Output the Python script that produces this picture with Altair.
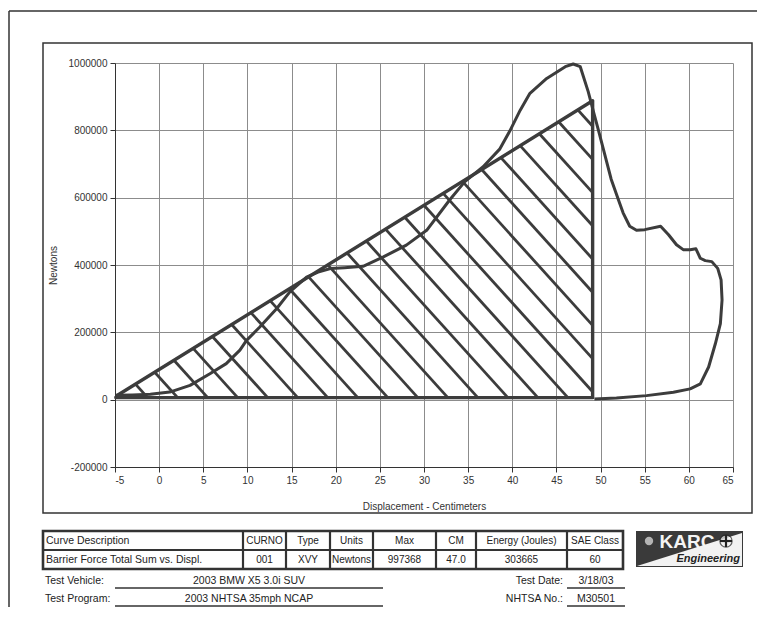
import altair as alt
import pandas as pd
import numpy as np

FONT = "Liberation Sans"
INK = "#3c3c3c"

# ---------------- data ----------------
LOAD_X = [-4.9, -3.0, -1.0, 1.2, 3.5, 5.75, 7.6, 9.15, 9.9, 11.4, 13.3, 14.8, 16.7, 18.0,
          19.4, 21.0, 23.1, 25.4, 28.0, 30.3, 32.9, 34.6, 36.7, 38.6, 39.7, 40.9, 42.0,
          43.9, 46.0, 46.9]
LOAD_Y = [12800, 14000, 16000, 22600, 42500, 77000, 107000, 147000, 176000, 216000, 270000,
          320000, 364000, 379000, 389500, 392000, 396000, 424000, 459000, 503000, 593000,
          647000, 692000, 745000, 797000, 860000, 910000, 954000, 989000, 997000]
UNLOAD_X = [47.7, 48.6, 49.2, 49.8, 51.2, 52.0, 52.55, 53.3, 54.07, 55.0, 56.8, 57.7, 58.6,
            59.4, 60.15, 60.8, 61.3, 61.86, 62.6, 63.27, 63.65, 63.76, 63.57, 63.0, 62.24,
            61.3, 60.15, 58.25, 55.2, 51.8, 49.3]
UNLOAD_Y = [989000, 915000, 855000, 796000, 655000, 595000, 555000, 515000, 503000, 505000,
            515000, 490000, 460000, 445000, 445000, 448000, 420000, 413000, 410000, 390000,
            356000, 296000, 226000, 166000, 97000, 47000, 32000, 22000, 12000, 5000, 2000]

# equivalent-energy triangle (apex-left, apex-top, bottom-right, bottom-left)
TRI_X = [-4.9, 49.1, 49.1, -4.9]
TRI_Y = [10000, 888000, 6000, 6000]

# hatch lines: where each crosses the triangle base, and their slope (N per cm)
HATCH_X0 = [-1.3, 2.1, 5.5, 8.9, 12.3, 15.7, 19.1, 22.5, 25.9, 29.3, 32.7, 36.1, 39.5,
            42.9, 46.3, 49.7, 53.1, 56.5, 59.9, 63.3, 66.7, 70.1, 73.5, 76.9]
HATCH_SLOPE = 29000

X_TICKS = list(range(-5, 70, 5))
Y_TICKS = [-200000, 0, 200000, 400000, 600000, 800000, 1000000]

HEAD = ["Curve Description", "CURNO", "Type", "Units", "Max", "CM", "Energy (Joules)", "SAE Class"]
ROW = ["Barrier Force Total Sum vs. Displ.", "001", "XVY", "Newtons", "997368", "47.0", "303665", "60"]
INFO_LEFT = [("Test Vehicle:", "2003 BMW X5 3.0i SUV"), ("Test Program:", "2003 NHTSA 35mph NCAP")]
INFO_RIGHT = [("Test Date:", "3/18/03"), ("NHTSA No.:", "M30501")]

# ---------------- tables ----------------
curve = pd.DataFrame({
    "x": LOAD_X + UNLOAD_X,
    "y": LOAD_Y + UNLOAD_Y,
})
curve["i"] = np.arange(len(curve))

tri = pd.DataFrame({"x": TRI_X + [TRI_X[0]], "y": TRI_Y + [TRI_Y[0]]})
tri["i"] = np.arange(len(tri))

xa, ya = TRI_X[0], TRI_Y[0]
xb, yb_top = TRI_X[1], TRI_Y[1]
xr = TRI_X[2]
ybase = TRI_Y[2]
m = (yb_top - ya) / (xb - xa)
rows = []
for x0 in HATCH_X0:
    xh = (ybase + HATCH_SLOPE * x0 - ya + m * xa) / (m + HATCH_SLOPE)
    yh = ya + m * (xh - xa)
    if x0 <= xr:
        xl, yl = x0, ybase
    else:
        xl, yl = xr, ybase + HATCH_SLOPE * (x0 - xr)
    if xh < xr and yl < yh:
        rows.append({"x": xh, "y": yh, "x2": xl, "y2": yl})
hatch = pd.DataFrame(rows)

W, H = 618, 404
XD = [-5, 65]
YD = [-200000, 1000000]
xs = alt.Scale(domain=XD, nice=False, zero=False)
ys = alt.Scale(domain=YD, nice=False, zero=False)

# page pixel -> local pixel helpers (plot area origin at page 115,63)
OX, OY = 115, 63
def lx(p):
    return p - OX
def ly(p):
    return p - OY
def dx(p):  # page px -> data x
    return XD[0] + (p - OX) * (XD[1] - XD[0]) / W
def dy(p):  # page px -> data y
    return YD[1] - (p - OY) * (YD[1] - YD[0]) / H

one = pd.DataFrame({"a": [0]})

def txt(s, px, py, align="left", size=10, color="#222", **kw):
    return alt.Chart(one).mark_text(text=s, align=align, baseline="middle", fontSize=size,
                                    font=FONT, color=color, **kw).encode(
        x=alt.value(lx(px)), y=alt.value(ly(py)))

def rule(x1, y1, x2, y2, w=1.0, color="#333"):
    return alt.Chart(one).mark_rule(strokeWidth=w, color=color).encode(
        x=alt.value(lx(x1)), y=alt.value(ly(y1)), x2=alt.value(lx(x2)), y2=alt.value(ly(y2)))

def rect(x1, y1, x2, y2, fill=None, stroke=None, w=1.0):
    kw = {}
    if fill is not None:
        kw["fill"] = fill
    else:
        kw["fillOpacity"] = 0
    if stroke is not None:
        kw["stroke"] = stroke
        kw["strokeWidth"] = w
    return alt.Chart(one).mark_rect(**kw).encode(
        x=alt.value(lx(x1)), y=alt.value(ly(y1)), x2=alt.value(lx(x2)), y2=alt.value(ly(y2)))

def dot(px, py, size, fill, stroke=None, w=1.0, shape="circle"):
    kw = {"shape": shape, "size": size, "filled": True, "color": fill}
    if stroke is not None:
        kw["stroke"] = stroke
        kw["strokeWidth"] = w
    return alt.Chart(one).mark_point(**kw).encode(x=alt.value(lx(px)), y=alt.value(ly(py)))

# ---------------- plot ----------------
xaxis = alt.Axis(values=X_TICKS, labelExpr="datum.value + ''", title="Displacement - Centimeters",
                 titlePadding=16)
yaxis = alt.Axis(values=Y_TICKS, labelExpr="datum.value + ''", title="Newtons", titlePadding=10)

base = alt.Chart(hatch).mark_rule(strokeWidth=2.8, color=INK).encode(
    x=alt.X("x:Q", scale=xs, axis=xaxis),
    y=alt.Y("y:Q", scale=ys, axis=yaxis),
    x2="x2:Q", y2="y2:Q",
)

tri_line = alt.Chart(tri).mark_line(strokeWidth=3.4, color=INK, strokeJoin="round").encode(
    x=alt.X("x:Q", scale=xs), y=alt.Y("y:Q", scale=ys), order="i:Q")

curve_line = alt.Chart(curve).mark_line(strokeWidth=3, color=INK, strokeJoin="round").encode(
    x=alt.X("x:Q", scale=xs), y=alt.Y("y:Q", scale=ys), order="i:Q")

# ---------------- frames ----------------
layers = [base, tri_line, curve_line]
layers.append(rule(9, 11, 770, 11, 1.5))
layers.append(rule(9, 11, 9, 640, 1.5))
layers.append(rect(43, 43, 752, 513, stroke="#333", w=1.5))

# ---------------- table ----------------
TL, TR, TT, TM, TB = 43, 623, 531, 550, 569
COLS = [TL, 243, 286, 330, 373, 436, 476, 567, TR]
layers.append(rule(TL, TM, TR, TM, 2.2))
for c in COLS[1:-1]:
    layers.append(rule(c, TT, c, TB, 2.2))
layers.append(rect(TL, TT, TR, TB, stroke="#333", w=2.6))
for k in range(len(HEAD)):
    if k == 0:
        layers.append(txt(HEAD[k], TL + 3, (TT + TM) / 2 + 0.5, size=10.5))
        layers.append(txt(ROW[k], TL + 3, (TM + TB) / 2 + 0.5, size=10.5))
    else:
        cx = (COLS[k] + COLS[k + 1]) / 2
        layers.append(txt(HEAD[k], cx, (TT + TM) / 2 + 0.5, align="center"))
        layers.append(txt(ROW[k], cx, (TM + TB) / 2 + 0.5, align="center"))

for j, (lab, val) in enumerate(INFO_LEFT):
    yy = 581 + 18 * j
    layers.append(txt(lab, 45, yy, size=10.5))
    layers.append(txt(val, 249, yy, align="center", size=10.5))
    layers.append(rule(115, yy + 7, 383, yy + 7, 1.6))
for j, (lab, val) in enumerate(INFO_RIGHT):
    yy = 581 + 18 * j
    layers.append(txt(lab, 563, yy, align="right", size=10.5))
    layers.append(txt(val, 596, yy, align="center", size=10.5))
    layers.append(rule(567, yy + 7, 625, yy + 7, 1.6))

# ---------------- logo ----------------
layers.append(rect(636, 531, 743, 567, fill="#3a3a3a"))
logo_tri = pd.DataFrame({"x": [dx(637), dx(742)], "y": [dy(566), dy(533)], "y2": [dy(566), dy(566)]})
layers.append(alt.Chart(logo_tri).mark_area(color="#f2f2f2").encode(
    x=alt.X("x:Q", scale=xs), y=alt.Y("y:Q", scale=ys), y2="y2:Q"))
layers.append(dot(649, 541, 70, "#e8e8e8"))
layers.append(txt("KARC", 687, 542, align="center", size=19, color="#f4f4f4", fontWeight="bold"))
layers.append(dot(726, 541, 150, "#f4f4f4", stroke="#222", w=1.2))
layers.append(rule(726, 535, 726, 547, 2.2, "#222"))
layers.append(rule(720, 541, 732, 541, 2.2, "#222"))
layers.append(txt("Engineering", 740, 559, align="right", size=11, color="#222",
                  fontStyle="italic", fontWeight="bold"))

chart = alt.layer(*layers).properties(
    width=W, height=H,
    autosize=alt.AutoSizeParams(type="none"),
    padding={"left": 107, "top": 55, "right": 24, "bottom": 140},
).configure_view(stroke=None).configure_axis(
    grid=True, gridColor="#8c8c8c", gridWidth=1,
    domainColor="#333", domainWidth=1, tickColor="#333", tickSize=5,
    labelFont=FONT, labelFontSize=10, labelColor="#333", labelPadding=3,
    titleFont=FONT, titleFontSize=10, titleColor="#333", titleFontWeight="normal",
)

chart.save("out.html", embed_options={"renderer": "svg", "actions": False})
